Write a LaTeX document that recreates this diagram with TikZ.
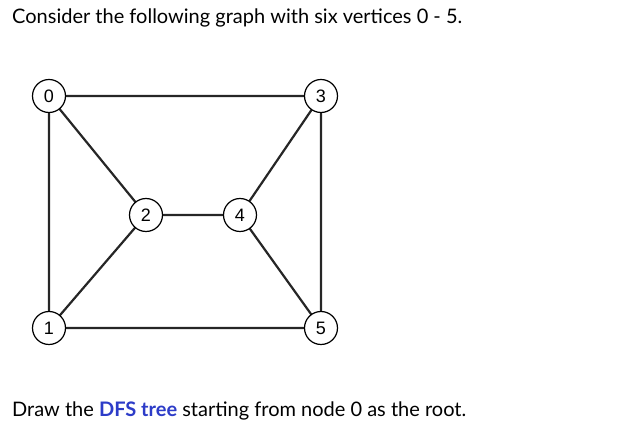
\documentclass[tikz,border=0pt]{standalone}
\usepackage{fontspec}
\setmainfont{Lato}
\newfontfamily\nodefont{Liberation Sans}
\definecolor{dfsblue}{RGB}{45,60,200}
\begin{document}
\begin{tikzpicture}[x=1pt,y=-1pt,
  vtx/.style={circle,draw=black,line width=1.2pt,fill=white,minimum size=33pt,inner sep=0pt,font=\nodefont\fontsize{18}{18}\selectfont},
  edge/.style={line width=2.2pt,draw=black!85}]
\useasboundingbox (0,0) rectangle (641,435);
\node[anchor=base west,inner sep=0pt,font=\fontsize{20}{24}\selectfont] (t1) at (12,24) {Consider the following graph with six vertices 0 - 5.};
\node[anchor=base west,inner sep=0pt,font=\fontsize{20}{24}\selectfont] (t2) at (12,417) {Draw the \textcolor{dfsblue}{\textbf{DFS tree}} starting from node 0 as the root.};
\coordinate (p0) at (49,96);
\coordinate (p3) at (321,96);
\coordinate (p2) at (146,215);
\coordinate (p4) at (240,215);
\coordinate (p1) at (49,328);
\coordinate (p5) at (321,328);
\draw[edge] (p0)--(p3) (p0)--(p1) (p0)--(p2) (p3)--(p4) (p3)--(p5) (p2)--(p4) (p2)--(p1) (p4)--(p5) (p1)--(p5);
\node[vtx] (n0) at (p0) {0};
\node[vtx] (n3) at (p3) {3};
\node[vtx] (n2) at (p2) {2};
\node[vtx] (n4) at (p4) {4};
\node[vtx] (n1) at (p1) {1};
\node[vtx] (n5) at (p5) {5};
\end{tikzpicture}
\end{document}
